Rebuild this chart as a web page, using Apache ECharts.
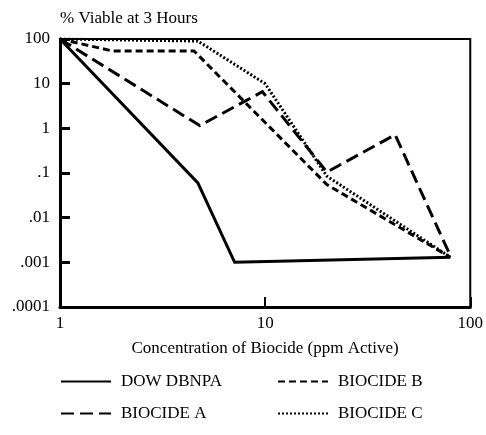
<!DOCTYPE html>
<html>
<head>
<meta charset="utf-8">
<script src="https://cdn.jsdelivr.net/npm/echarts@6/dist/echarts.min.js"></script>
<style>html,body{margin:0;padding:0;background:#fff;}#c{width:486px;height:435px;}</style>
</head>
<body>
<div id="c"></div>
<script>
// Data
const seriesNames = ['DOW DBNPA', 'BIOCIDE A', 'BIOCIDE B', 'BIOCIDE C'];
const dbnpaX = [1, 4.7, 7.1, 80];
const dbnpaY = [100, 0.06, 0.001, 0.0013];
const biocideAX = [1, 4.8, 9.7, 20, 43, 80];
const biocideAY = [100, 1.15, 6.6, 0.105, 0.72, 0.0014];
const biocideBX = [1, 1.8, 4.5, 20, 80];
const biocideBY = [100, 54, 54, 0.055, 0.0013];
const biocideCX = [1, 4.7, 10, 20, 80];
const biocideCY = [100, 90, 10, 0.085, 0.0013];
const yTickLabels = ['.0001', '.001', '.01', '.1', '1', '10', '100'];
const xTickLabels = ['1', '10', '100'];

const pairs = (xs, ys) => xs.map((x, i) => [x, ys[i]]);
const FONT = '"Liberation Serif", "DejaVu Serif", serif';
const FS = 17;

const chart = echarts.init(document.getElementById('c'), null, {renderer: 'canvas'});

function mkSeries(name, xs, ys, dash) {
  return {
    name: name,
    type: 'line',
    data: pairs(xs, ys),
    symbol: 'none',
    showSymbol: false,
    animation: false,
    lineStyle: {color: '#000', width: 3, type: dash, cap: 'butt', join: 'miter'},
    itemStyle: {color: '#000'}
  };
}

function mkLegend(name, left, top) {
  return {
    data: [name],
    left: left,
    top: top,
    itemWidth: 50,
    itemHeight: 14,
    padding: 0,
    selectedMode: false,
    itemStyle: {color: 'rgba(0,0,0,0)', borderColor: 'rgba(0,0,0,0)', borderWidth: 0, opacity: 0},
    textStyle: {fontFamily: FONT, fontSize: FS, color: '#000', padding: [0, 0, 0, 5]}
  };
}

chart.setOption({
  animation: false,
  backgroundColor: '#fff',
  title: {
    text: '% Viable at 3 Hours',
    left: 60, top: 10,
    padding: 0,
    textStyle: {fontFamily: FONT, fontSize: FS, fontWeight: 'normal', color: '#000'}
  },
  grid: {left: 60, top: 39, right: 15, bottom: 128, show: true, borderColor: '#000', borderWidth: 2, backgroundColor: 'transparent'},
  legend: [
    mkLegend('DOW DBNPA', 60, 373),
    mkLegend('BIOCIDE B', 277, 373),
    mkLegend('BIOCIDE A', 60, 405),
    mkLegend('BIOCIDE C', 277, 405)
  ],
  xAxis: {
    type: 'log', logBase: 10, min: 1, max: 100,
    name: 'Concentration of Biocide (ppm Active)',
    nameLocation: 'middle', nameGap: 33,
    nameTextStyle: {fontFamily: FONT, fontSize: FS, color: '#000'},
    axisLine: {lineStyle: {color: '#000', width: 3}},
    axisTick: {inside: true, length: 10, lineStyle: {color: '#000', width: 2}},
    minorTick: {show: false},
    splitLine: {show: false},
    axisLabel: {
      fontFamily: FONT, fontSize: FS, color: '#000', margin: 8, showMaxLabel: true,
      formatter: v => xTickLabels[Math.round(Math.log10(v))]
    }
  },
  yAxis: {
    type: 'log', logBase: 10, min: 0.0001, max: 100,
    axisLine: {lineStyle: {color: '#000', width: 3}},
    axisTick: {inside: true, length: 10, lineStyle: {color: '#000', width: 3}},
    splitLine: {show: false},
    axisLabel: {
      fontFamily: FONT, fontSize: FS, color: '#000', margin: 10, showMaxLabel: true,
      formatter: v => yTickLabels[Math.round(Math.log10(v)) + 4]
    }
  },
  series: [
    mkSeries('DOW DBNPA', dbnpaX, dbnpaY, 'solid'),
    mkSeries('BIOCIDE A', biocideAX, biocideAY, [13, 6]),
    mkSeries('BIOCIDE B', biocideBX, biocideBY, [7, 4]),
    mkSeries('BIOCIDE C', biocideCX, biocideCY, [2, 2])
  ]
});
</script>
</body>
</html>
